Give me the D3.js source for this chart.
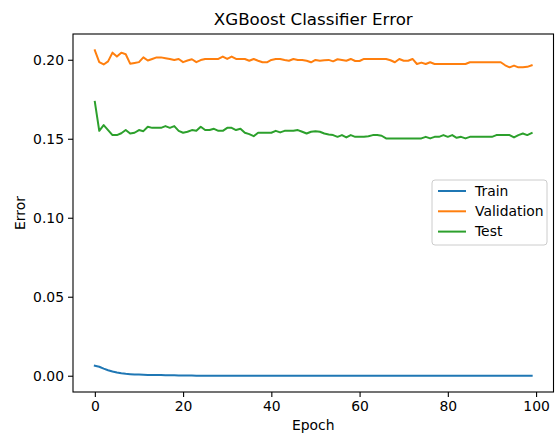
<!DOCTYPE html>
<html>
<head>
<meta charset="utf-8">
<script src="https://cdn.jsdelivr.net/npm/d3@7"></script>
<style>
  body { margin: 0; background: #fff; }
  text { font-family: "DejaVu Sans", sans-serif; fill: #000; }
</style>
</head>
<body>
<svg id="chart"></svg>
<script>
// values
const seriesNames = ["Train", "Validation", "Test"];
const seriesColors = ["#1f77b4", "#ff7f0e", "#2ca02c"];

const train = [0.0063, 0.0057, 0.0045, 0.0035, 0.0027, 0.0020, 0.0015, 0.0012, 0.0010, 0.0008,
  0.0007, 0.0006, 0.0005, 0.0005, 0.0004, 0.0004, 0.0003, 0.0003, 0.0003, 0.0002,
  0.0002, 0.0002, 0.0001, 0, 0, 0, 0, 0, 0, 0,
  0, 0, 0, 0, 0, 0, 0, 0, 0, 0,
  0, 0, 0, 0, 0, 0, 0, 0, 0, 0,
  0, 0, 0, 0, 0, 0, 0, 0, 0, 0,
  0, 0, 0, 0, 0, 0, 0, 0, 0, 0,
  0, 0, 0, 0, 0, 0, 0, 0, 0, 0,
  0, 0, 0, 0, 0, 0, 0, 0, 0, 0,
  0, 0, 0, 0, 0, 0, 0, 0, 0, 0];

const validation = [0.2060, 0.1985, 0.1970, 0.1990, 0.2045, 0.2020, 0.2045, 0.2035, 0.1975, 0.1980,
  0.1985, 0.2015, 0.1995, 0.2005, 0.2015, 0.2015, 0.2010, 0.2005, 0.1998, 0.2005,
  0.1985, 0.1995, 0.2003, 0.1985, 0.1998, 0.2005, 0.2005, 0.2005, 0.2005, 0.2020,
  0.2005, 0.2020, 0.2005, 0.2005, 0.2005, 0.1994, 0.2005, 0.1994, 0.1984, 0.1984,
  0.1999, 0.2005, 0.2005, 0.1999, 0.1994, 0.2005, 0.1999, 0.1999, 0.1994, 0.1984,
  0.1999, 0.1994, 0.1997, 0.1999, 0.1990, 0.2003, 0.1999, 0.1994, 0.2005, 0.1992,
  0.1992, 0.2005, 0.2005, 0.2005, 0.2005, 0.2005, 0.2005, 0.1997, 0.1984, 0.2005,
  0.1994, 0.1994, 0.2005, 0.1973, 0.1982, 0.1973, 0.1984, 0.1973, 0.1973, 0.1973,
  0.1973, 0.1973, 0.1973, 0.1973, 0.1973, 0.1984, 0.1984, 0.1984, 0.1984, 0.1984,
  0.1984, 0.1984, 0.1984, 0.1965, 0.1952, 0.1963, 0.1952, 0.1952, 0.1955, 0.1965];

const test = [0.1734, 0.1550, 0.1586, 0.1555, 0.1523, 0.1523, 0.1535, 0.1555, 0.1533, 0.1538,
  0.1555, 0.1548, 0.1576, 0.1569, 0.1569, 0.1569, 0.1580, 0.1569, 0.1580, 0.1550,
  0.1538, 0.1544, 0.1555, 0.1550, 0.1576, 0.1555, 0.1555, 0.1563, 0.1550, 0.1550,
  0.1569, 0.1569, 0.1555, 0.1563, 0.1538, 0.1529, 0.1516, 0.1538, 0.1538, 0.1538,
  0.1538, 0.1550, 0.1540, 0.1550, 0.1550, 0.1550, 0.1555, 0.1544, 0.1533, 0.1544,
  0.1548, 0.1544, 0.1533, 0.1527, 0.1523, 0.1512, 0.1523, 0.1508, 0.1523, 0.1512,
  0.1512, 0.1512, 0.1516, 0.1523, 0.1523, 0.1519, 0.1502, 0.1502, 0.1502, 0.1502,
  0.1502, 0.1502, 0.1502, 0.1502, 0.1502, 0.1512, 0.1502, 0.1512, 0.1512, 0.1523,
  0.1512, 0.1523, 0.1506, 0.1512, 0.1502, 0.1512, 0.1512, 0.1512, 0.1512, 0.1512,
  0.1512, 0.1523, 0.1523, 0.1523, 0.1523, 0.1508, 0.1523, 0.1533, 0.1523, 0.1536];

const seriesValues = [train, validation, test];
const xTicks = [0, 20, 40, 60, 80, 100];
const yTicks = [0.00, 0.05, 0.10, 0.15, 0.20];

const width = 558, height = 435;
const margin = { top: 34, right: 4.5, bottom: 43, left: 73 };
const innerW = width - margin.left - margin.right;
const innerH = height - margin.top - margin.bottom;

const svg = d3.select("#chart").attr("width", width).attr("height", height);

// matplotlib style 5% autoscale margins
const n = train.length;
const xPad = (n - 1) * 0.05;
const allVals = seriesValues.flat();
const yMin = d3.min(allVals), yMax = d3.max(allVals);
const yPad = (yMax - yMin) * 0.05;

const x = d3.scaleLinear().domain([-xPad, n - 1 + xPad]).range([0, innerW]);
const y = d3.scaleLinear().domain([yMin - yPad, yMax + yPad]).range([innerH, 0]);

const g = svg.append("g").attr("transform", `translate(${margin.left},${margin.top})`);

// lines
const line = d3.line().x((d, i) => x(i)).y(d => y(d));
seriesValues.forEach((vals, k) => {
  g.append("path")
    .datum(vals)
    .attr("fill", "none")
    .attr("stroke", seriesColors[k])
    .attr("stroke-width", 2)
    .attr("stroke-linejoin", "round")
    .attr("stroke-linecap", "square")
    .attr("d", line);
});

// axes
const xAxis = g.append("g")
  .attr("transform", `translate(0,${innerH})`)
  .call(d3.axisBottom(x).tickValues(xTicks).tickSize(5).tickPadding(4).tickFormat(d3.format("d")));
const yAxis = g.append("g")
  .call(d3.axisLeft(y).tickValues(yTicks).tickSize(5).tickPadding(4).tickFormat(d3.format(".2f")));

[xAxis, yAxis].forEach(ax => {
  ax.select(".domain").remove();
  ax.selectAll(".tick line").attr("stroke", "#000").attr("stroke-width", 1.1);
  ax.selectAll(".tick text").attr("font-size", 13.9).attr("font-family", "DejaVu Sans").attr("fill", "#000");
});

// frame
g.append("rect")
  .attr("width", innerW).attr("height", innerH)
  .attr("fill", "none").attr("stroke", "#000").attr("stroke-width", 1.1);

// title and labels
svg.append("text")
  .attr("x", margin.left + innerW / 2).attr("y", 25)
  .attr("text-anchor", "middle").attr("font-size", 16.7)
  .text("XGBoost Classifier Error");
svg.append("text")
  .attr("x", margin.left + innerW / 2).attr("y", 430)
  .attr("text-anchor", "middle").attr("font-size", 13.9)
  .text("Epoch");
svg.append("text")
  .attr("transform", `translate(25,${margin.top + innerH / 2}) rotate(-90)`)
  .attr("text-anchor", "middle").attr("font-size", 13.9)
  .text("Error");

// legend
const legend = svg.append("g").attr("transform", "translate(432,180)");
legend.append("rect")
  .attr("width", 115).attr("height", 65).attr("rx", 3)
  .attr("fill", "#fff").attr("fill-opacity", 0.8)
  .attr("stroke", "#ccc").attr("stroke-width", 1);
seriesNames.forEach((name, k) => {
  const ly = 11 + k * 20.3;
  legend.append("line")
    .attr("x1", 6).attr("x2", 34).attr("y1", ly).attr("y2", ly)
    .attr("stroke", seriesColors[k]).attr("stroke-width", 2);
  legend.append("text")
    .attr("x", 43).attr("y", ly).attr("dy", "0.35em")
    .attr("font-size", 13.9)
    .text(name);
});
</script>
</body>
</html>
